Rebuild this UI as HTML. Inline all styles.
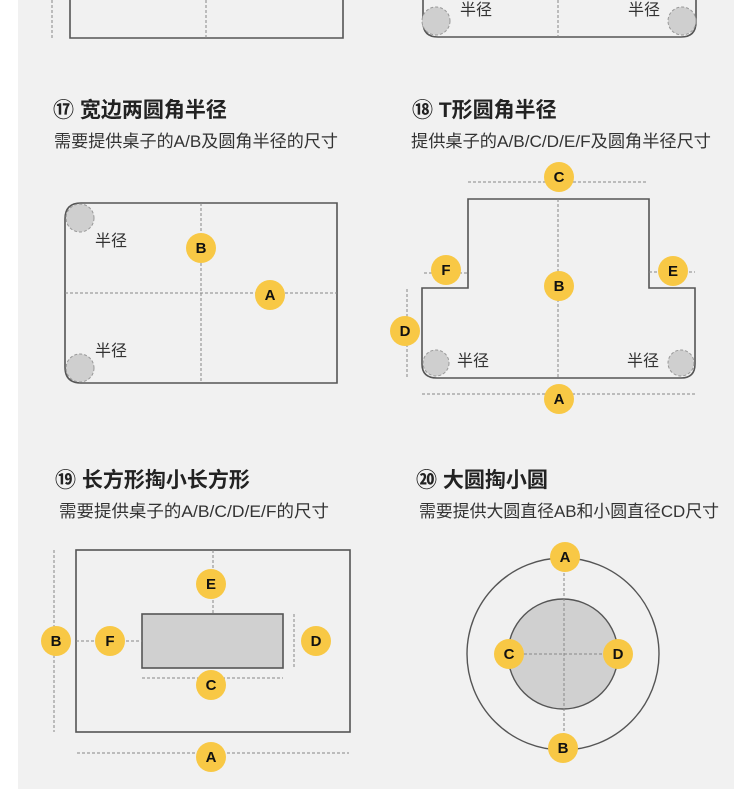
<!DOCTYPE html>
<html><head><meta charset="utf-8"><style>
html,body{margin:0;padding:0;background:#fff;}
body{width:750px;height:789px;overflow:hidden;position:relative;font-family:"Liberation Sans","Noto Sans CJK SC",sans-serif;}
svg{position:absolute;left:0;top:0;}
</style></head><body>
<svg width="750" height="789" viewBox="0 0 750 789" xmlns="http://www.w3.org/2000/svg" font-family="Liberation Sans, Noto Sans CJK SC, sans-serif">
<rect x="18" y="0" width="716" height="789" fill="#f1f1f1"/>
<defs>
<style>
.o{fill:none;stroke:#555;stroke-width:1.6}
.d{fill:none;stroke:#888;stroke-width:1;stroke-dasharray:3 2}
.c{fill:#cfcfcf;stroke:#999;stroke-width:1;stroke-dasharray:3 2}
.b{fill:#f8c845}
.bt{font-size:15px;font-weight:bold;fill:#111;text-anchor:middle;font-family:"Liberation Sans",sans-serif}
.t{font-size:21px;font-weight:bold;fill:#222}
.s{font-size:17px;fill:#333}
.l{font-size:16px;fill:#333}
</style>
</defs>

<!-- top remnants -->
<path class="o" d="M70 0 V38 H343 V0"/>
<line class="d" x1="206" y1="0" x2="206" y2="38"/>
<line class="d" x1="52" y1="0" x2="52" y2="38"/>
<path class="o" d="M423 0 V22 Q423 37 438 37 H681 Q696 37 696 22 V0"/>
<line class="d" x1="558" y1="0" x2="558" y2="37"/>
<circle class="c" cx="436" cy="21" r="14"/>
<circle class="c" cx="682" cy="21" r="14"/>
<text class="l" x="460" y="15">半径</text>
<text class="l" x="628" y="15">半径</text>

<!-- 17 -->
<text class="t" x="53" y="117">⑰ 宽边两圆角半径</text>
<text class="s" x="54" y="147" textLength="284" lengthAdjust="spacingAndGlyphs">需要提供桌子的A/B及圆角半径的尺寸</text>
<path class="o" d="M81 203 H337 V383 H81 Q65 383 65 367 V219 Q65 203 81 203 Z"/>
<line class="d" x1="201" y1="203" x2="201" y2="383"/>
<line class="d" x1="65" y1="293" x2="337" y2="293"/>
<circle class="c" cx="80" cy="218" r="14"/>
<circle class="c" cx="80" cy="368" r="14"/>
<text class="l" x="95" y="246">半径</text>
<text class="l" x="95" y="356">半径</text>
<circle class="b" cx="201" cy="248" r="15"/><text class="bt" x="201" y="253">B</text>
<circle class="b" cx="270" cy="295" r="15"/><text class="bt" x="270" y="300">A</text>

<!-- 18 -->
<text class="t" x="412" y="117">⑱ T形圆角半径</text>
<text class="s" x="411" y="147" textLength="300" lengthAdjust="spacingAndGlyphs">提供桌子的A/B/C/D/E/F及圆角半径尺寸</text>
<path class="o" d="M468 199 H649 V288 H695 V364 Q695 378 681 378 H437 Q422 378 422 364 V288 H468 Z"/>
<line class="d" x1="558" y1="199" x2="558" y2="378"/>
<line class="d" x1="468" y1="182" x2="648" y2="182"/>
<line class="d" x1="424" y1="273" x2="468" y2="273"/>
<line class="d" x1="649" y1="272" x2="695" y2="272"/>
<line class="d" x1="407" y1="289" x2="407" y2="379"/>
<line class="d" x1="422" y1="394" x2="695" y2="394"/>
<circle class="c" cx="436" cy="363" r="13"/>
<circle class="c" cx="681" cy="363" r="13"/>
<text class="l" x="457" y="366">半径</text>
<text class="l" x="627" y="366">半径</text>
<circle class="b" cx="559" cy="177" r="15"/><text class="bt" x="559" y="182">C</text>
<circle class="b" cx="446" cy="270" r="15"/><text class="bt" x="446" y="275">F</text>
<circle class="b" cx="673" cy="271" r="15"/><text class="bt" x="673" y="276">E</text>
<circle class="b" cx="559" cy="286" r="15"/><text class="bt" x="559" y="291">B</text>
<circle class="b" cx="405" cy="331" r="15"/><text class="bt" x="405" y="336">D</text>
<circle class="b" cx="559" cy="399" r="15"/><text class="bt" x="559" y="404">A</text>

<!-- 19 -->
<text class="t" x="55" y="487">⑲ 长方形掏小长方形</text>
<text class="s" x="59" y="517" textLength="270" lengthAdjust="spacingAndGlyphs">需要提供桌子的A/B/C/D/E/F的尺寸</text>
<rect class="o" x="76" y="550" width="274" height="182"/>
<rect x="142" y="614" width="141" height="54" fill="#d0d0d0" stroke="#555" stroke-width="1.6"/>
<line class="d" x1="54" y1="550" x2="54" y2="732"/>
<line class="d" x1="76" y1="641" x2="142" y2="641"/>
<line class="d" x1="213" y1="550" x2="213" y2="614"/>
<line class="d" x1="294" y1="614" x2="294" y2="668"/>
<line class="d" x1="142" y1="678" x2="283" y2="678"/>
<line class="d" x1="77" y1="753" x2="349" y2="753"/>
<circle class="b" cx="56" cy="641" r="15"/><text class="bt" x="56" y="646">B</text>
<circle class="b" cx="110" cy="641" r="15"/><text class="bt" x="110" y="646">F</text>
<circle class="b" cx="211" cy="584" r="15"/><text class="bt" x="211" y="589">E</text>
<circle class="b" cx="316" cy="641" r="15"/><text class="bt" x="316" y="646">D</text>
<circle class="b" cx="211" cy="685" r="15"/><text class="bt" x="211" y="690">C</text>
<circle class="b" cx="211" cy="757" r="15"/><text class="bt" x="211" y="762">A</text>

<!-- 20 -->
<text class="t" x="416" y="487">⑳ 大圆掏小圆</text>
<text class="s" x="419" y="517" textLength="300" lengthAdjust="spacingAndGlyphs">需要提供大圆直径AB和小圆直径CD尺寸</text>
<circle cx="563" cy="654" r="96" fill="none" stroke="#555" stroke-width="1.4"/>
<circle cx="563" cy="654" r="55" fill="#d0d0d0" stroke="#555" stroke-width="1.4"/>
<line class="d" x1="564" y1="558" x2="564" y2="750"/>
<line class="d" x1="509" y1="654" x2="618" y2="654"/>
<circle class="b" cx="565" cy="557" r="15"/><text class="bt" x="565" y="562">A</text>
<circle class="b" cx="563" cy="748" r="15"/><text class="bt" x="563" y="753">B</text>
<circle class="b" cx="509" cy="654" r="15"/><text class="bt" x="509" y="659">C</text>
<circle class="b" cx="618" cy="654" r="15"/><text class="bt" x="618" y="659">D</text>
</svg>
</body></html>
